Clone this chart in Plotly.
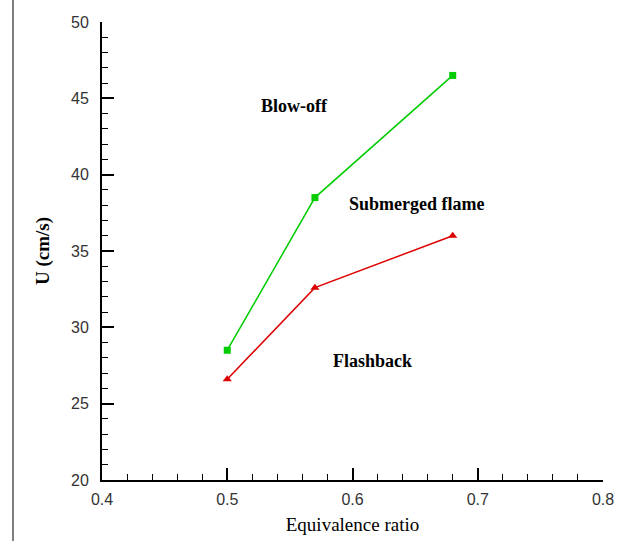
import plotly.graph_objects as go

phi = [0.5, 0.57, 0.68]
blowoff_u = [28.5, 38.5, 46.5]
flashback_u = [26.6, 32.6, 36.0]

region_labels = ["Blow-off", "Submerged flame", "Flashback"]
region_x = [0.554, 0.651, 0.616]
region_y = [44.5, 38.1, 27.8]

fig = go.Figure()
fig.add_trace(go.Scatter(x=phi, y=blowoff_u, mode="lines+markers",
                         line=dict(color="#00cc00", width=1.5),
                         marker=dict(symbol="square", size=7, color="#00cc00"),
                         showlegend=False))
fig.add_trace(go.Scatter(x=phi, y=flashback_u, mode="lines+markers",
                         line=dict(color="#dd0000", width=1.5),
                         marker=dict(symbol="triangle-up", size=8, color="#dd0000"),
                         showlegend=False))

for t, x, y in zip(region_labels, region_x, region_y):
    fig.add_annotation(x=x, y=y, text="<b>%s</b>" % t, showarrow=False,
                       font=dict(family="Liberation Serif", size=18, color="black"))

tickfont = dict(family="Liberation Sans", size=16, color="#333333")

fig.update_xaxes(range=[0.4, 0.8], tick0=0.4, dtick=0.1, tickformat=".1f",
                 showline=True, linecolor="black", linewidth=2, automargin=False,
                 ticks="inside", ticklen=12, tickwidth=2, tickcolor="black",
                 minor=dict(ticks="inside", ticklen=6, tickwidth=1.2, dtick=0.02, tickcolor="black"),
                 showgrid=False, zeroline=False, tickfont=tickfont, ticklabelstandoff=4,
                 title=dict(text="Equivalence ratio",
                            font=dict(family="Liberation Serif", size=19, color="black"), standoff=10))
fig.update_yaxes(range=[20, 50], tick0=20, dtick=5,
                 showline=True, linecolor="black", linewidth=2, automargin=False,
                 ticks="inside", ticklen=12, tickwidth=2, tickcolor="black",
                 minor=dict(ticks="inside", ticklen=6, tickwidth=1.2, dtick=1, tickcolor="black"),
                 showgrid=False, zeroline=False, tickfont=tickfont, ticklabelstandoff=8,
                 title=dict(text="<b>U (cm/s)</b>",
                            font=dict(family="Liberation Serif", size=19, color="black"), standoff=16))

fig.add_shape(type="line", xref="paper", yref="paper",
              x0=(13 - 102) / 501, x1=(13 - 102) / 501, y0=-61 / 458, y1=1 + 22 / 458,
              line=dict(color="black", width=1))

fig.update_layout(width=626, height=541, margin=dict(l=102, r=23, t=22, b=61),
                  plot_bgcolor="white", paper_bgcolor="white")

fig.write_html("out.html")
